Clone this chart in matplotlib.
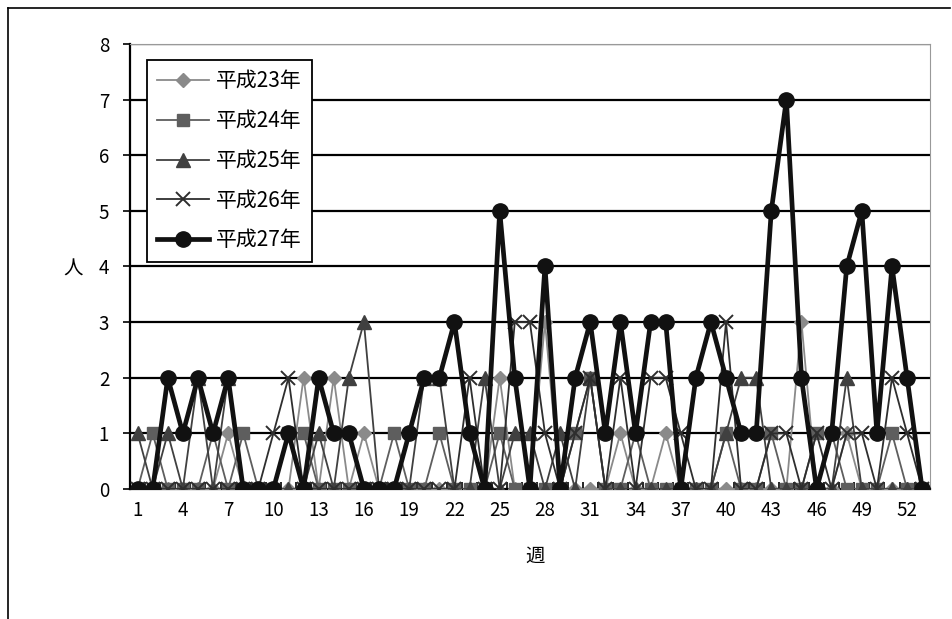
import numpy as np
import matplotlib.pyplot as plt
from matplotlib.lines import Line2D

plt.rcParams['font.family'] = ['Noto Sans CJK JP', 'DejaVu Sans']

# weekly counts (weeks 1-53)
weeks = np.arange(1, 54)

h23 = [0, 0, 0, 0, 0, 0, 1, 0, 0, 0, 0, 2, 0, 2, 0, 1, 0, 0, 0, 0,
       0, 0, 0, 0, 2, 0, 0, 3, 0, 0, 0, 0, 1, 0, 0, 1, 0, 0, 0, 0,
       0, 0, 0, 0, 3, 0, 0, 1, 0, 0, 0, 0, 0]
h24 = [0, 1, 0, 0, 0, 1, 0, 1, 0, 0, 1, 1, 0, 0, 0, 0, 0, 1, 0, 0,
       1, 0, 0, 0, 1, 0, 0, 0, 0, 1, 2, 0, 0, 1, 0, 0, 0, 0, 0, 1,
       0, 0, 1, 0, 0, 1, 1, 0, 0, 0, 1, 0, 0]
h25 = [1, 0, 1, 0, 2, 0, 2, 0, 0, 0, 0, 0, 1, 0, 2, 3, 0, 0, 0, 2,
       2, 0, 0, 2, 0, 1, 1, 0, 1, 0, 2, 0, 0, 0, 0, 0, 0, 0, 0, 1,
       2, 2, 0, 0, 0, 0, 0, 2, 0, 0, 0, 0, 0]
h26 = [0, 0, 0, 0, 0, 0, 0, 0, 0, 1, 2, 0, 0, 0, 0, 0, 0, 0, 0, 0,
       0, 0, 2, 0, 0, 3, 3, 1, 0, 1, 2, 0, 2, 0, 2, 2, 1, 0, 0, 3,
       0, 0, 1, 1, 0, 1, 0, 1, 1, 0, 2, 1, 0]
h27 = [0, 0, 2, 1, 2, 1, 2, 0, 0, 0, 1, 0, 2, 1, 1, 0, 0, 0, 1, 2,
       2, 3, 1, 0, 5, 2, 0, 4, 0, 2, 3, 1, 3, 1, 3, 3, 0, 2, 3, 2,
       1, 1, 5, 7, 2, 0, 1, 4, 5, 1, 4, 2, 0]

labels = ['平成23年', '平成24年', '平成25年', '平成26年', '平成27年']

fig = plt.figure(figsize=(9.52, 6.19), dpi=100)
ax = fig.add_axes([0.1366, 0.210, 0.840, 0.719])

# outer frame of the chart area
fig.add_artist(Line2D([0.008, 0.008], [0.0, 0.987], transform=fig.transFigure, color='black', lw=1.2))
fig.add_artist(Line2D([0.008, 0.998], [0.987, 0.987], transform=fig.transFigure, color='black', lw=1.2))

for y in range(1, 9):
    ax.axhline(y, color='black', lw=1.6, zorder=1)

ax.plot(weeks, h23, color='#8a8a8a', lw=1.3, marker='D', ms=7, label=labels[0], zorder=3)
ax.plot(weeks, h24, color='#5e5e5e', lw=1.3, marker='s', ms=9, label=labels[1], zorder=3)
ax.plot(weeks, h25, color='#404040', lw=1.3, marker='^', ms=10, label=labels[2], zorder=3)
ax.plot(weeks, h26, color='#2e2e2e', lw=1.3, marker='x', ms=10, mew=1.4, label=labels[3], zorder=3)
ax.plot(weeks, h27, color='#111111', lw=3.4, marker='o', ms=11, label=labels[4], zorder=4)

ax.set_xlim(0.5, 53.5)
ax.set_ylim(0, 8)
ax.set_xticks(weeks[::3])
ax.set_xticks(np.arange(1.5, 53.5, 1), minor=True)
ax.set_yticks(range(0, 9))
ax.tick_params(axis='x', which='major', length=0, labelsize=13.5, pad=8)
ax.tick_params(axis='x', which='minor', direction='in', length=5, width=1.2)
ax.tick_params(axis='y', direction='out', length=5, width=1.2, labelsize=13.5, pad=10)

ax.spines['left'].set_linewidth(1.6)
ax.spines['bottom'].set_linewidth(1.6)
ax.spines['top'].set_color('#999999')
ax.spines['right'].set_color('#999999')

ax.set_ylabel('人', rotation=0, fontsize=14)
ax.yaxis.set_label_coords(-0.071, 0.47)
ax.set_xlabel('週', fontsize=14)
ax.xaxis.set_label_coords(0.506, -0.128)

leg = ax.legend(loc='upper left', bbox_to_anchor=(0.021, 0.964), borderaxespad=0,
                fontsize=15, handlelength=2.5, labelspacing=0.85, handletextpad=0.3,
                borderpad=0.5, fancybox=False, edgecolor='black', framealpha=1)
leg.get_frame().set_linewidth(1.3)

fig.savefig('out.png', dpi=100)
